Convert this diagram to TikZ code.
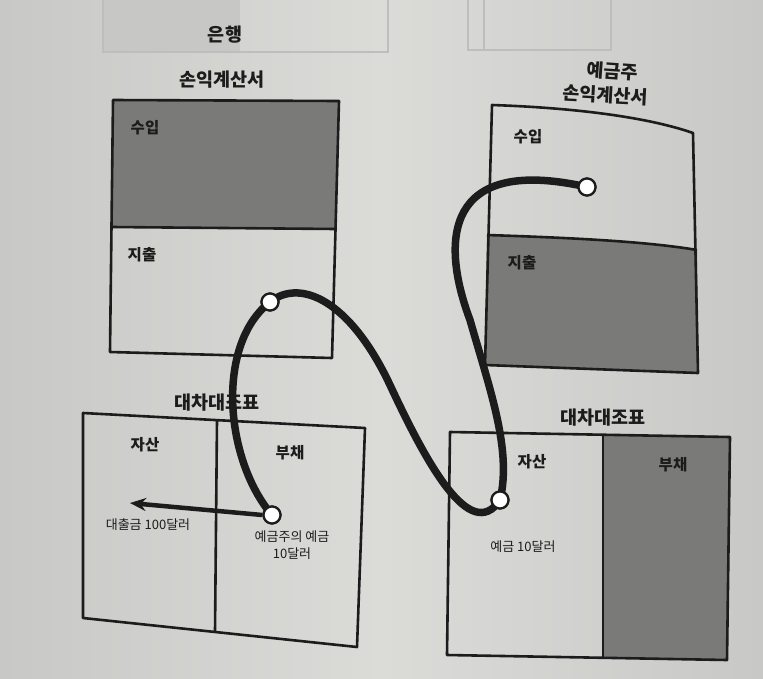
\documentclass[tikz,border=0pt]{standalone}
\usepackage{fontspec}
\setmainfont{Noto Sans CJK KR}
\usetikzlibrary{arrows.meta}
\definecolor{paper}{RGB}{219,219,216}
\definecolor{paperdark}{RGB}{200,200,198}
\definecolor{ink}{RGB}{28,28,28}
\definecolor{darkfill}{RGB}{122,122,121}
\definecolor{ghost}{RGB}{190,190,190}

\begin{document}
\begin{tikzpicture}[x=1pt, y=-1pt]
    % Styles
    \tikzstyle{frame} = [draw=ink, line width=2.6pt, line join=round]
    \tikzstyle{title} = [text=ink, font=\fontsize{18.5}{20}\selectfont\bfseries]
    \tikzstyle{part} = [text=ink, font=\fontsize{15.5}{17}\selectfont\bfseries]
    \tikzstyle{note} = [text=ink, font=\fontsize{13}{17}\selectfont, align=center]
    \tikzstyle{hole} = [circle, draw=ink, line width=2.2pt, fill=white, minimum size=17pt, inner sep=0pt]
    \tikzstyle{brush} = [draw=ink, line width=7.5pt, line cap=round]
    \tikzstyle{arrow} = [-{Stealth[length=16pt, width=13pt]}, draw=ink, line width=4.5pt]

    % Paper
    \useasboundingbox (0,0) rectangle (763,678);
    \shade[left color=paperdark, right color=paperdark, middle color=paper] (0,0) rectangle (763,678);

    % Previous figure (cut off)
    \fill[ghost!70!paper] (103,-5) rectangle (240,52);
    \draw[ghost, line width=2pt] (103,-5) -- (103,52) -- (388,52) -- (388,-5);
    \draw[ghost, line width=2pt] (468,-5) -- (468,50) -- (611,50) -- (611,-5);
    \draw[ghost, line width=1.5pt] (484,-5) -- (484,50);

    % Bank income statement
    \fill[darkfill] (113,100) -- (339,101) -- (336,229) -- (112,227) -- cycle;
    \draw[frame] (113,100) -- (339,101) -- (332,358) -- (110,352) -- cycle;
    \draw[frame] (112,227) -- (336,229);

    % Depositor income statement
    \fill[darkfill] (487,235) .. controls (580,238) and (650,242) .. (697,250) -- (698,373) -- (485,365) -- cycle;
    \draw[frame] (492,105) .. controls (580,108) and (650,118) .. (693,133) -- (698,373) -- (485,365) -- cycle;
    \draw[frame] (487,235) .. controls (580,238) and (650,242) .. (697,250);

    % Bank balance sheet
    \draw[frame] (83,413) -- (365,428) -- (357,647) -- (83,618) -- cycle;
    \draw[frame] (217,420) -- (215,632);

    % Depositor balance sheet
    \fill[darkfill] (603,435) -- (730,437) -- (727,660) -- (603,658) -- cycle;
    \draw[frame] (450,432) -- (730,437) -- (727,660) -- (447,655) -- cycle;
    \draw[frame] (603,435) -- (603,658);

    % Nodes
    \node[hole] (D1) at (272,515) {};
    \node[hole] (D2) at (270,302) {};
    \node[hole] (D3) at (500,500) {};
    \node[hole] (D4) at (587,187) {};
    \coordinate (loan) at (130,503);

    % Arrows
    \draw[brush] (D1.center) .. controls (225,460) and (215,345) .. (D2.center)
        .. controls (300,278) and (350,300) .. (390,385)
        .. controls (425,460) and (470,545) .. (D3.center)
        .. controls (512,450) and (490,390) .. (470,320)
        .. controls (440,240) and (445,155) .. (D4.center);
    \draw[arrow] (D1.west) -- (loan);
    \foreach \n in {D1,D2,D3,D4}
        \node[hole] at (\n) {};

    % Labels
    \node[title] (bank) at (225,35) {은행};
    \node[title, rotate=-4] (depositor) at (612,71) {예금주};
    \node[title] (bankIS) at (222,80) {손익계산서};
    \node[title, rotate=-3] (depIS) at (605,95) {손익계산서};
    \node[part] at (145,128) {수입};
    \node[part] at (142,255) {지출};
    \node[part] at (528,137) {수입};
    \node[part] at (522,263) {지출};
    \node[title] (bankBS) at (217,403) {대차대조표};
    \node[title] (depBS) at (603,418) {대차대조표};
    \node[part] at (145,445) {자산};
    \node[part] at (290,453) {부채};
    \node[part] at (532,462) {자산};
    \node[part] at (673,465) {부채};
    \node[note] at (148,525) {대출금 100달러};
    \node[note] at (292,545) {예금주의 예금\\10달러};
    \node[note] at (523,547) {예금 10달러};
\end{tikzpicture}
\end{document}
